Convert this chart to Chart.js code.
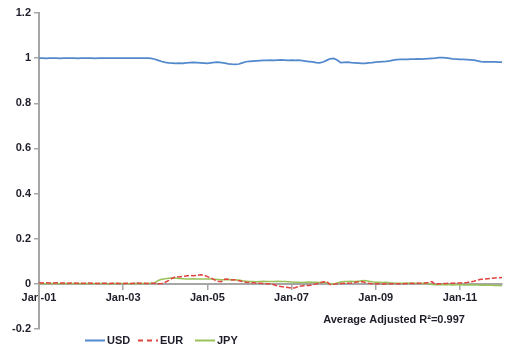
<!DOCTYPE html>
<html>
<head>
<meta charset="utf-8">
<script src="https://cdn.jsdelivr.net/npm/chart.js@4.4.1/dist/chart.umd.min.js"></script>
<style>
  html, body { margin: 0; padding: 0; background: #fff; }
  #wrap { width: 506px; height: 350px; position: relative; }
</style>
</head>
<body>
<div id="wrap"><canvas id="c" width="506" height="350"></canvas></div>
<script>
// Monthly sensitivities, Jan-01 through Jan-12
const monthNames = ['Jan','Feb','Mar','Apr','May','Jun','Jul','Aug','Sep','Oct','Nov','Dec'];
const years = ['01','02','03','04','05','06','07','08','09','10','11'];

const tickLabels = ['Jan-01','Jan-03','Jan-05','Jan-07','Jan-09','Jan-11'];

const usd = [
  1.000,1.000,0.999,1.000,1.000,1.000,0.999,1.000,1.000,1.000,1.000,0.999,
  1.000,1.000,1.000,1.000,0.999,1.000,1.000,1.000,1.000,1.000,1.000,1.000,
  1.000,1.000,1.000,1.000,1.000,1.000,1.000,1.000,0.999,0.995,0.990,0.985,
  0.981,0.979,0.978,0.977,0.978,0.977,0.979,0.980,0.981,0.980,0.979,0.978,
  0.977,0.979,0.981,0.982,0.980,0.978,0.975,0.973,0.972,0.974,0.979,0.984,
  0.986,0.987,0.988,0.989,0.990,0.990,0.991,0.990,0.991,0.992,0.991,0.990,
  0.991,0.990,0.991,0.989,0.987,0.985,0.983,0.980,0.979,0.983,0.990,0.997,
  0.999,0.992,0.980,0.981,0.982,0.980,0.979,0.978,0.977,0.977,0.979,0.980,
  0.982,0.984,0.985,0.986,0.988,0.991,0.993,0.994,0.995,0.995,0.996,0.996,
  0.997,0.996,0.997,0.998,0.999,1.000,1.002,1.002,1.001,0.999,0.997,0.996,
  0.995,0.994,0.993,0.992,0.991,0.988,0.985,0.984,0.984,0.983,0.983,0.982,
  0.982
];

const eur = [
  0.005,0.004,0.005,0.004,0.004,0.005,0.004,0.004,0.003,0.004,0.004,0.003,
  0.003,0.003,0.004,0.003,0.003,0.002,0.003,0.003,0.002,0.003,0.003,0.002,
  0.002,0.003,0.002,0.003,0.004,0.003,0.003,0.002,0.003,0.003,0.000,0.002,
  0.007,0.015,0.025,0.032,0.030,0.033,0.035,0.037,0.036,0.038,0.040,0.039,
  0.032,0.026,0.018,0.012,0.010,0.021,0.020,0.017,0.018,0.014,0.010,0.007,
  0.006,0.005,0.004,0.003,0.002,0.001,0.000,-0.004,-0.009,-0.012,-0.014,-0.016,
  -0.019,-0.017,-0.012,-0.009,-0.007,-0.007,-0.004,0.000,0.004,0.008,0.010,-0.003,
  -0.002,0.001,0.002,0.003,0.003,0.004,0.006,0.009,0.010,0.006,0.003,0.001,
  0.000,0.000,-0.001,0.000,0.001,0.000,0.000,0.001,0.001,0.002,0.003,0.002,
  0.003,0.003,0.004,0.006,0.010,-0.003,0.000,0.001,0.002,0.003,0.003,0.004,
  0.004,0.005,0.006,0.009,0.012,0.017,0.020,0.021,0.023,0.025,0.026,0.027,
  0.028
];

const jpy = [
  0.002,0.002,0.001,0.002,0.002,0.002,0.001,0.002,0.002,0.001,0.002,0.002,
  0.002,0.001,0.002,0.002,0.001,0.002,0.002,0.002,0.001,0.002,0.002,0.002,
  0.002,0.002,0.001,0.002,0.002,0.002,0.002,0.002,0.003,0.004,0.015,0.020,
  0.023,0.025,0.026,0.025,0.024,0.023,0.022,0.022,0.023,0.022,0.022,0.021,
  0.022,0.021,0.020,0.019,0.018,0.018,0.019,0.018,0.017,0.017,0.014,0.012,
  0.010,0.010,0.009,0.010,0.011,0.010,0.010,0.010,0.011,0.010,0.010,0.009,
  0.008,0.007,0.007,0.006,0.007,0.008,0.007,0.007,0.006,0.007,0.005,0.001,
  0.000,0.004,0.008,0.010,0.010,0.011,0.010,0.012,0.014,0.015,0.012,0.009,
  0.007,0.007,0.006,0.007,0.005,0.004,0.003,0.003,0.003,0.004,0.003,0.003,
  0.003,0.002,0.003,0.002,-0.003,-0.004,-0.004,-0.003,-0.004,-0.004,-0.005,-0.004,
  -0.004,-0.005,-0.005,-0.004,-0.005,-0.005,-0.006,-0.005,-0.006,-0.006,-0.007,-0.007,
  -0.008
];

const labels = [];
years.forEach(y => monthNames.forEach(m => labels.push(m + '-' + y)));
labels.push('Jan-12');

const textColor = '#1e1e2a';
const axisColor = '#a6a6a6';
const font = { family: '"Liberation Sans", Arial, sans-serif', size: 11, weight: 'bold' };

// Legend row and R² note drawn below the plot
const footerPlugin = {
  id: 'footer',
  afterDraw(chart) {
    const ctx = chart.ctx;
    ctx.save();
    ctx.font = 'bold 11px "Liberation Sans", Arial, sans-serif';
    ctx.fillStyle = textColor;
    ctx.textBaseline = 'middle';
    ctx.textAlign = 'center';
    ctx.fillText('Average Adjusted R\u00B2=0.997', 394, 320);

    const items = [
      { ds: chart.data.datasets[0], x: 85, dash: [] },
      { ds: chart.data.datasets[1], x: 138, dash: [5, 4] },
      { ds: chart.data.datasets[2], x: 195, dash: [] }
    ];
    const y = 340.5;
    items.forEach(it => {
      ctx.beginPath();
      ctx.strokeStyle = it.ds.borderColor;
      ctx.lineWidth = 2;
      ctx.setLineDash(it.dash);
      ctx.moveTo(it.x, y);
      ctx.lineTo(it.x + 20, y);
      ctx.stroke();
      ctx.setLineDash([]);
      ctx.textAlign = 'left';
      ctx.fillStyle = textColor;
      ctx.fillText(it.ds.label, it.x + 22, y);
    });
    ctx.restore();
  }
};

new Chart(document.getElementById('c'), {
  type: 'line',
  data: {
    labels: labels,
    datasets: [
      { label: 'USD', data: usd, borderColor: '#5288cc', borderWidth: 1.75, pointRadius: 0, tension: 0 },
      { label: 'EUR', data: eur, borderColor: '#e0443e', borderWidth: 1.5, borderDash: [5, 2], pointRadius: 0, tension: 0 },
      { label: 'JPY', data: jpy, borderColor: '#9bc25a', borderWidth: 1.5, pointRadius: 0, tension: 0 }
    ]
  },
  options: {
    responsive: false,
    animation: false,
    events: [],
    layout: { padding: { left: 0, right: 4, top: 13, bottom: 21 } },
    plugins: { legend: { display: false }, tooltip: { enabled: false } },
    scales: {
      x: {
        type: 'category',
        position: { y: 0 },
        offset: false,
        afterBuildTicks(scale) {
          scale.ticks = scale.ticks.filter(t => tickLabels.includes(labels[t.value]));
        },
        ticks: {
          autoSkip: false,
          maxRotation: 0,
          color: textColor,
          font: font,
          padding: 3,
          callback(value) { return this.getLabelForValue(value); }
        },
        grid: { drawOnChartArea: false, drawTicks: true, tickLength: 5, color: axisColor, lineWidth: 1.5 },
        border: { color: axisColor, width: 2 }
      },
      y: {
        min: -0.2,
        max: 1.2,
        afterFit(scale) { scale.width = 39; },
        ticks: {
          stepSize: 0.2,
          color: textColor,
          font: font,
          padding: 3,
          callback(v) { return String(Number(v.toFixed(1))); }
        },
        grid: { drawOnChartArea: false, drawTicks: true, tickLength: 5, color: axisColor, lineWidth: 1.5 },
        border: { color: axisColor, width: 2 }
      }
    }
  },
  plugins: [footerPlugin]
});
</script>
</body>
</html>
